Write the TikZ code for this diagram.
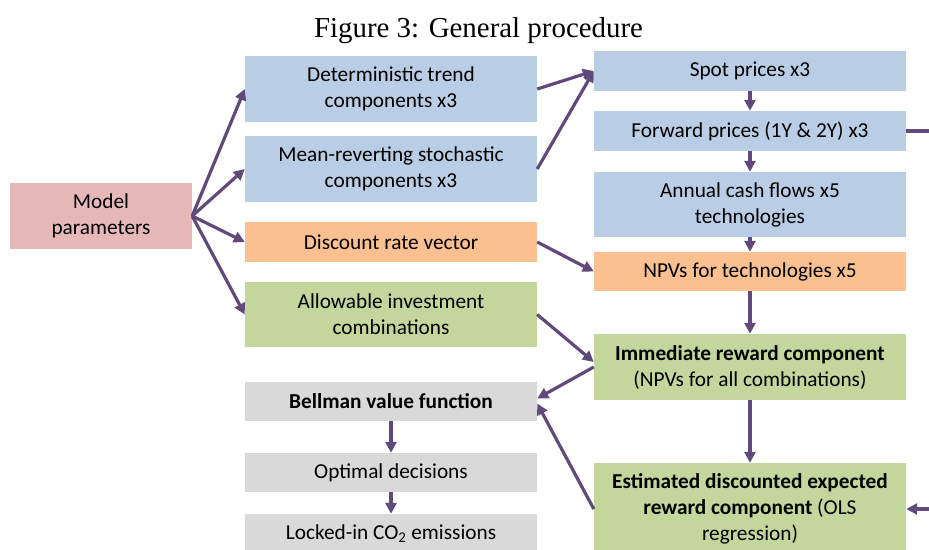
\documentclass[tikz,border=0pt]{standalone}
\usepackage{fontspec}
\setmainfont{Carlito}
\newfontfamily\titlefont{Liberation Serif}
\usetikzlibrary{arrows.meta}
\definecolor{cpink}{HTML}{E6B9B8}
\definecolor{cblue}{HTML}{B9CDE5}
\definecolor{corange}{HTML}{FAC090}
\definecolor{cgreen}{HTML}{C3D69B}
\definecolor{cgray}{HTML}{D9D9D9}
\definecolor{cpurple}{HTML}{604A7B}
\tikzset{
  box/.style={rectangle, inner sep=0pt, align=center,
    font=\fontsize{21.3}{26}\selectfont},
  arr/.style={draw=cpurple, line width=3.2pt,
    -{Triangle[length=11pt,width=11pt]}},
}
\begin{document}
\begin{tikzpicture}[x=1pt,y=-1pt]
\useasboundingbox (0,0) rectangle (929,549);
\clip (0,0) rectangle (929,549);
\node[anchor=base, font=\titlefont\fontsize{28.9}{34}\selectfont] (title) at (478.5,37) {Figure 3: General procedure};
% left
\node[box, fill=cpink, minimum width=182, minimum height=66] (mp) at (101,216) {Model\\parameters};
\node[box, fill=cblue, minimum width=292, minimum height=66] (det) at (391,89) {Deterministic trend\\components x3};
\node[box, fill=cblue, minimum width=292, minimum height=66] (mr) at (391,169) {Mean-reverting stochastic\\components x3};
\node[box, fill=corange, minimum width=292, minimum height=40] (dr) at (391,242) {Discount rate vector};
\node[box, fill=cgreen, minimum width=292, minimum height=65] (ai) at (391,314.5) {Allowable investment\\combinations};
\node[box, fill=cgray, minimum width=292, minimum height=39] (bv) at (391,401.5) {\textbf{Bellman value function}};
\node[box, fill=cgray, minimum width=292, minimum height=39] (od) at (391,472.5) {Optimal decisions};
\node[box, fill=cgray, minimum width=292, minimum height=39] (lc) at (391,533.5) {Locked-in CO\textsubscript{2} emissions};
% right
\node[box, fill=cblue, minimum width=312, minimum height=40] (sp) at (750,71) {Spot prices x3};
\node[box, fill=cblue, minimum width=312, minimum height=40] (fp) at (750,131) {Forward prices (1Y \& 2Y) x3};
\node[box, fill=cblue, minimum width=312, minimum height=65] (ac) at (750,204.5) {Annual cash flows x5\\technologies};
\node[box, fill=corange, minimum width=312, minimum height=39] (npv) at (750,271.5) {NPVs for technologies x5};
\node[box, fill=cgreen, minimum width=312, minimum height=66] (ir) at (750,367) {\textbf{Immediate reward component}\\(NPVs for all combinations)};
\node[box, fill=cgreen, minimum width=312, minimum height=92] (er) at (750,509) {\textbf{Estimated discounted expected}\\\textbf{reward component} (OLS\\regression)};
\coordinate (loop) at (960,131);
% arrows
\draw[arr] (mp.east) -- (det.west);
\draw[arr] (mp.east) -- (mr.west);
\draw[arr] (mp.east) -- (dr.west);
\draw[arr] (mp.east) -- (ai.west);
\draw[arr] (det.east) -- (sp.west);
\draw[arr] (mr.east) -- (sp.west);
\draw[arr] (dr.east) -- (npv.west);
\draw[arr] (ai.east) -- ([yshift=5pt]ir.west);
\draw[arr] (sp.south) -- (fp.north);
\draw[arr] (fp.south) -- (ac.north);
\draw[arr] (ac.south) -- (npv.north);
\draw[arr] (npv.south) -- (ir.north);
\draw[arr] (ir.south) -- (er.north);
\draw[arr] (ir.west) -- ([yshift=3pt]bv.east);
\draw[arr] (er.west) -- ([yshift=-2pt]bv.east);
\draw[arr] (bv.south) -- (od.north);
\draw[arr] (od.south) -- (lc.north);
\draw[arr] (fp.east) -- (loop) |- (er.east);
\end{tikzpicture}
\end{document}
